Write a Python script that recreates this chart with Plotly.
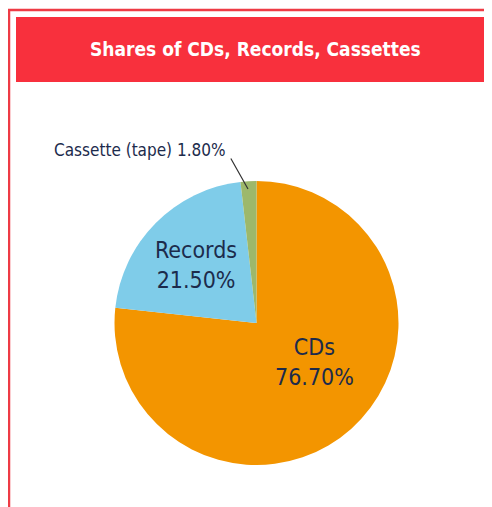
import plotly.graph_objects as go

labels = ["CDs", "Records", "Cassette (tape)"]
shares = [76.70, 21.50, 1.80]
colors = ["#F39500", "#7FCCE9", "#9DB86B"]

W, H = 492, 507
OFF = 8  # page offset of the plot inside the browser window
FONT = "DejaVu Sans Condensed"
NAVY = "#1C2B4C"


def px(x):
    return (x - OFF) / W


def py(y):
    return 1 - (y - OFF) / H


fig = go.Figure(go.Pie(
    labels=labels,
    values=shares,
    sort=False,
    direction="clockwise",
    rotation=0,
    marker=dict(colors=colors, line=dict(width=0)),
    textinfo="none",
    hoverinfo="label+percent",
    showlegend=False,
    domain=dict(x=[px(114.5), px(398.5)], y=[py(465), py(181)]),
))

shapes = [
    dict(type="rect", xref="paper", yref="paper",
         x0=px(9), x1=px(W + 20), y0=py(10), y1=py(H + 20),
         line=dict(color="#EE3B45", width=2.5), fillcolor="rgba(0,0,0,0)", layer="above"),
    dict(type="rect", xref="paper", yref="paper",
         x0=px(16), x1=px(W + 20), y0=py(17), y1=py(82),
         line=dict(width=0), fillcolor="#F8303D", layer="below"),
]

annotations = [
    dict(text="<b>Shares of CDs, Records, Cassettes</b>", xref="paper", yref="paper",
         x=px(256), y=py(49), xanchor="center", yanchor="middle", showarrow=False,
         font=dict(family=FONT, size=19, color="white")),
    dict(text=f"{labels[0]}<br>{shares[0]:.2f}%", xref="paper", yref="paper",
         x=px(314), y=py(362), xanchor="center", yanchor="middle", showarrow=False,
         font=dict(family=FONT, size=23, color=NAVY)),
    dict(text=f"{labels[1]}<br>{shares[1]:.2f}%", xref="paper", yref="paper",
         x=px(196), y=py(265), xanchor="center", yanchor="middle", showarrow=False,
         font=dict(family=FONT, size=23, color=NAVY)),
    dict(text=f"{labels[2]} {shares[2]:.2f}%", xref="paper", yref="paper",
         x=px(52), y=py(150), xanchor="left", yanchor="middle", showarrow=False,
         font=dict(family=FONT, size=17, color=NAVY)),
    dict(text="", xref="paper", yref="paper",
         x=px(248), y=py(189), ax=-18, ay=-32,
         showarrow=True, arrowhead=0, arrowwidth=1.2, arrowcolor="#333333"),
]

fig.update_layout(
    width=W, height=H,
    margin=dict(l=0, r=0, t=0, b=0),
    paper_bgcolor="white", plot_bgcolor="white",
    shapes=shapes, annotations=annotations,
)

fig.write_html("out.html")
